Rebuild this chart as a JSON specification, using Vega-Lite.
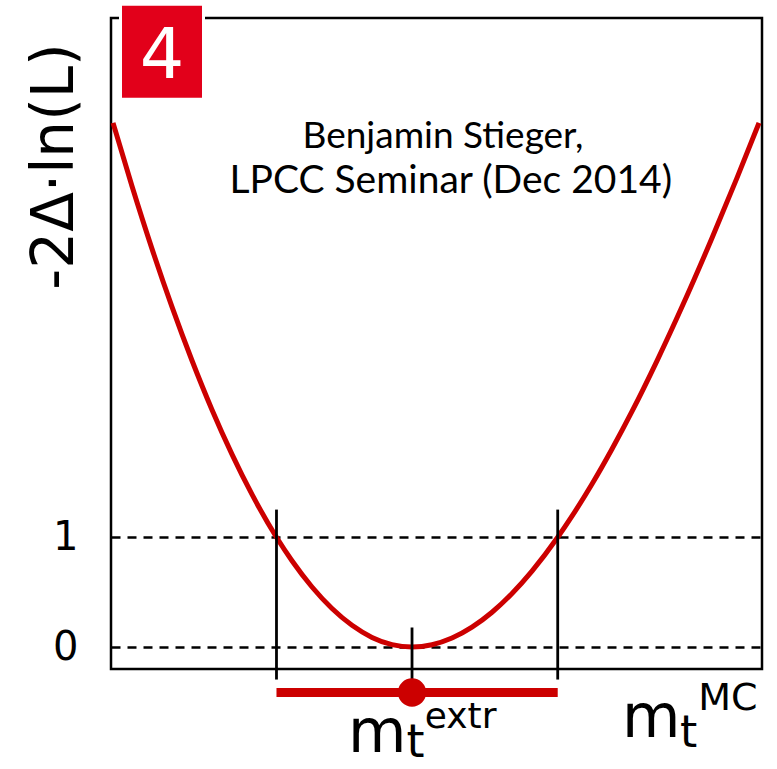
{
  "$schema": "https://vega.github.io/schema/vega-lite/v6.json",
  "width": 651,
  "height": 651,
  "autosize": {"type": "none"},
  "padding": {"left": 111, "top": 18, "right": 15, "bottom": 100},
  "background": "white",
  "config": {
    "view": {"stroke": "black", "strokeWidth": 2.5},
    "axisX": {"disable": true}
  },
  "datasets": {
    "scan": [
      {"m": 0.31, "nll": 4.775},
      {"m": 3.23, "nll": 4.197},
      {"m": 6.30, "nll": 3.627},
      {"m": 9.37, "nll": 3.098},
      {"m": 12.44, "nll": 2.610},
      {"m": 15.51, "nll": 2.162},
      {"m": 18.59, "nll": 1.755},
      {"m": 21.66, "nll": 1.390},
      {"m": 25.42, "nll": 1.000},
      {"m": 27.80, "nll": 0.786},
      {"m": 30.88, "nll": 0.547},
      {"m": 33.95, "nll": 0.351},
      {"m": 37.02, "nll": 0.198},
      {"m": 40.09, "nll": 0.088},
      {"m": 43.16, "nll": 0.022},
      {"m": 46.24, "nll": 0.0},
      {"m": 49.31, "nll": 0.021},
      {"m": 52.38, "nll": 0.082},
      {"m": 55.45, "nll": 0.181},
      {"m": 58.53, "nll": 0.317},
      {"m": 61.60, "nll": 0.488},
      {"m": 64.67, "nll": 0.692},
      {"m": 68.62, "nll": 1.000},
      {"m": 70.81, "nll": 1.192},
      {"m": 73.89, "nll": 1.485},
      {"m": 76.96, "nll": 1.804},
      {"m": 80.03, "nll": 2.146},
      {"m": 83.87, "nll": 2.607},
      {"m": 87.71, "nll": 3.099},
      {"m": 92.32, "nll": 3.726},
      {"m": 96.16, "nll": 4.274},
      {"m": 99.54, "nll": 4.774}
    ],
    "fit": [
      {"m": 46.24, "lo": 25.42, "hi": 68.62}
    ]
  },
  "layer": [
    {
      "data": {"name": "scan"},
      "mark": {"type": "line", "color": "#cc0000", "strokeWidth": 5, "interpolate": "monotone"},
      "encoding": {
        "x": {"field": "m", "type": "quantitative", "scale": {"domain": [0, 100], "nice": false, "zero": false}},
        "y": {
          "field": "nll", "type": "quantitative",
          "scale": {"domain": [-0.2, 5.73], "nice": false, "zero": false},
          "axis": {
            "values": [0, 1], "format": "d",
            "grid": true, "gridColor": "black", "gridWidth": 2.6, "gridDash": [9, 7], "gridOpacity": 1,
            "domain": false, "ticks": false,
            "labelFont": "DejaVu Sans", "labelFontSize": 40, "labelColor": "black", "labelPadding": 33,
            "title": "-2Δ·ln(L)",
            "titleFont": "DejaVu Sans", "titleFontSize": 58, "titleFontWeight": "normal", "titleColor": "black",
            "titleAngle": -90, "titleAlign": "center", "titleBaseline": "middle",
            "titleX": -56, "titleY": 148
          }
        }
      }
    },
    {
      "data": {"name": "fit"},
      "mark": {"type": "rule", "color": "black", "strokeWidth": 2.8},
      "encoding": {
        "x": {"field": "lo", "type": "quantitative", "scale": {"domain": [0, 100], "nice": false, "zero": false}},
        "y": {"datum": 1.252, "type": "quantitative", "scale": {"domain": [-0.2, 5.73], "nice": false, "zero": false}},
        "y2": {"datum": -0.296}
      }
    },
    {
      "data": {"name": "fit"},
      "mark": {"type": "rule", "color": "black", "strokeWidth": 2.8},
      "encoding": {
        "x": {"field": "hi", "type": "quantitative", "scale": {"domain": [0, 100], "nice": false, "zero": false}},
        "y": {"datum": 1.252, "type": "quantitative", "scale": {"domain": [-0.2, 5.73], "nice": false, "zero": false}},
        "y2": {"datum": -0.296}
      }
    },
    {
      "data": {"name": "fit"},
      "mark": {"type": "rule", "color": "black", "strokeWidth": 2.8},
      "encoding": {
        "x": {"field": "m", "type": "quantitative", "scale": {"domain": [0, 100], "nice": false, "zero": false}},
        "y": {"datum": 0.178, "type": "quantitative", "scale": {"domain": [-0.2, 5.73], "nice": false, "zero": false}},
        "y2": {"datum": -0.414}
      }
    },
    {
      "data": {"name": "fit"},
      "mark": {"type": "rule", "color": "#cc0000", "strokeWidth": 9, "strokeCap": "butt"},
      "encoding": {
        "x": {"field": "lo", "type": "quantitative", "scale": {"domain": [0, 100], "nice": false, "zero": false}},
        "x2": {"field": "hi"},
        "y": {"datum": -0.414, "type": "quantitative", "scale": {"domain": [-0.2, 5.73], "nice": false, "zero": false}}
      }
    },
    {
      "data": {"name": "fit"},
      "mark": {"type": "circle", "color": "#cc0000", "opacity": 1, "size": 800},
      "encoding": {
        "x": {"field": "m", "type": "quantitative", "scale": {"domain": [0, 100], "nice": false, "zero": false}},
        "y": {"datum": -0.414, "type": "quantitative", "scale": {"domain": [-0.2, 5.73], "nice": false, "zero": false}}
      }
    },
    {
      "data": {"values": [{}]},
      "mark": {"type": "rect", "color": "#e2001a", "stroke": "white", "strokeWidth": 3},
      "encoding": {
        "x": {"datum": 1.46, "type": "quantitative", "scale": {"domain": [0, 100], "nice": false, "zero": false}},
        "x2": {"datum": 14.21},
        "y": {"datum": 5.856, "type": "quantitative", "scale": {"domain": [-0.2, 5.73], "nice": false, "zero": false}},
        "y2": {"datum": 4.991}
      }
    },
    {
      "data": {"values": [{}]},
      "mark": {"type": "text", "text": "4", "color": "white", "font": "DejaVu Sans", "fontSize": 70, "align": "center", "baseline": "alphabetic"},
      "encoding": {
        "x": {"datum": 7.83, "type": "quantitative", "scale": {"domain": [0, 100], "nice": false, "zero": false}},
        "y": {"datum": 5.187, "type": "quantitative", "scale": {"domain": [-0.2, 5.73], "nice": false, "zero": false}}
      }
    },
    {
      "data": {"values": [
        {"line": "Benjamin Stieger,", "cx": 51.0, "base": 4.549, "fs": 37},
        {"line": "LPCC Seminar (Dec 2014)", "cx": 52.2, "base": 4.139, "fs": 39}
      ]},
      "mark": {"type": "text", "color": "black", "font": "Lato", "align": "center", "baseline": "alphabetic"},
      "encoding": {
        "x": {"field": "cx", "type": "quantitative", "scale": {"domain": [0, 100], "nice": false, "zero": false}},
        "y": {"field": "base", "type": "quantitative", "scale": {"domain": [-0.2, 5.73], "nice": false, "zero": false}},
        "text": {"field": "line"},
        "size": {"field": "fs", "type": "quantitative", "scale": null, "legend": null}
      }
    },
    {
      "data": {"values": [
        {"t": "m", "px": 36.4, "py": -0.955, "fs": 60},
        {"t": "t", "px": 45.4, "py": -1.005, "fs": 46},
        {"t": "extr", "px": 48.2, "py": -0.74, "fs": 36},
        {"t": "m", "px": 78.5, "py": -0.815, "fs": 60},
        {"t": "t", "px": 87.4, "py": -0.911, "fs": 44},
        {"t": "MC", "px": 90.2, "py": -0.578, "fs": 38}
      ]},
      "mark": {"type": "text", "color": "black", "font": "DejaVu Sans", "align": "left", "baseline": "alphabetic"},
      "encoding": {
        "x": {"field": "px", "type": "quantitative", "scale": {"domain": [0, 100], "nice": false, "zero": false}},
        "y": {"field": "py", "type": "quantitative", "scale": {"domain": [-0.2, 5.73], "nice": false, "zero": false}},
        "text": {"field": "t"},
        "size": {"field": "fs", "type": "quantitative", "scale": null, "legend": null}
      }
    }
  ]
}
